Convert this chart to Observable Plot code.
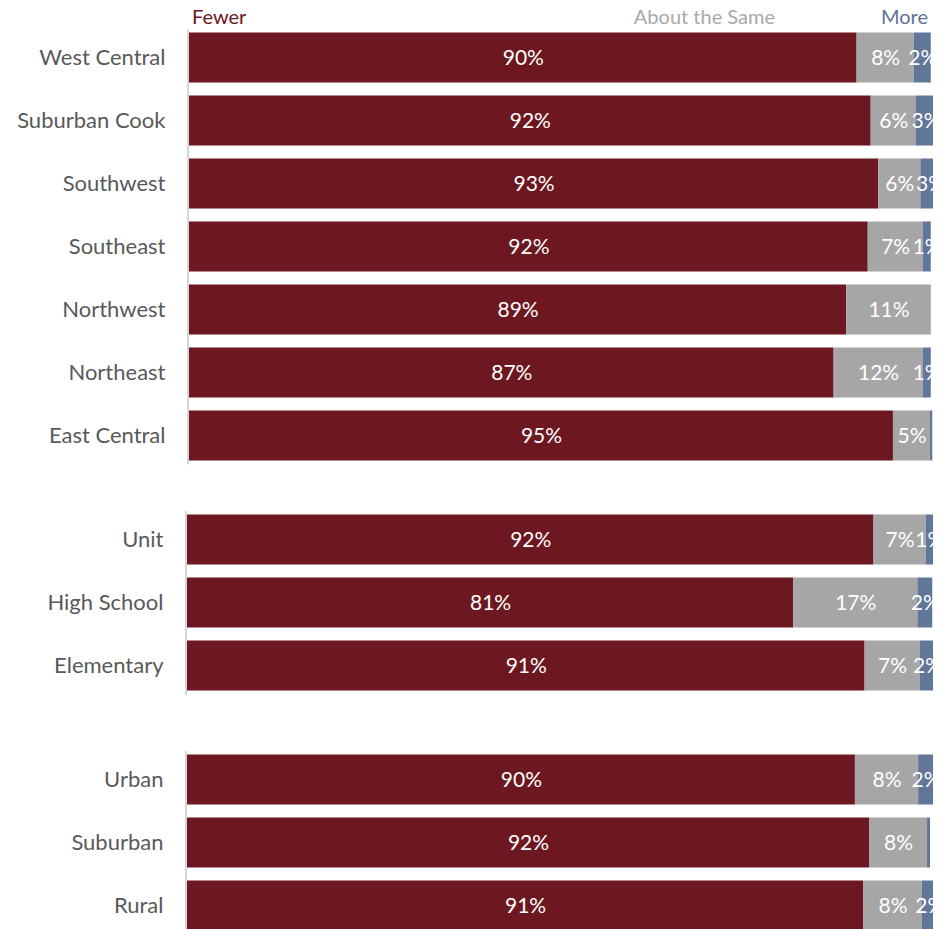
<!DOCTYPE html>
<html>
<head>
<meta charset="utf-8">
<script src="https://cdn.jsdelivr.net/npm/d3@7"></script>
<script src="https://cdn.jsdelivr.net/npm/@observablehq/plot@0.6"></script>
<style>
  html, body { margin: 0; padding: 0; background: #fff; }
  #wrap { position: relative; width: 944px; height: 929px; overflow: hidden; font-family: Lato, "Open Sans", sans-serif; }
  .lg { position: absolute; top: 4px; font-size: 20px; line-height: 24px; white-space: nowrap; }
  .panel { position: absolute; left: 0; }
  .panel svg { display: block; }
</style>
</head>
<body>
<div id="wrap">
  <span class="lg" style="left:192px;color:#6d1720">Fewer</span>
  <span class="lg" style="right:169px;color:#a8a8a8">About the Same</span>
  <span class="lg" style="right:16px;color:#5f7096">More</span>
</div>
<script>
// ---------- data ----------
const responses = ["Fewer", "About the Same", "More"];
const colors = ["#6d1720", "#a6a6a6", "#62769a"];

const regionCats = ["West Central", "Suburban Cook", "Southwest", "Southeast", "Northwest", "Northeast", "East Central"];
const regionFewer = [90.0, 91.9, 92.9, 91.5, 88.6, 86.9, 94.9];
const regionSame  = [7.7, 6.1, 5.7, 7.4, 11.4, 12.0, 5.0];
const regionMore  = [2.3, 2.6, 2.6, 1.1, 0.0, 1.1, 0.3];
const regionFewerLbl = [90, 92, 93, 92, 89, 87, 95];
const regionSameLbl  = [8, 6, 6, 7, 11, 12, 5];
const regionMoreLbl  = [2, 3, 3, 1, null, 1, null];

const typeCats = ["Unit", "High School", "Elementary"];
const typeFewer = [92.3, 81.5, 91.1];
const typeSame  = [7.0, 16.7, 7.4];
const typeMore  = [1.0, 2.0, 2.0];
const typeFewerLbl = [92, 81, 91];
const typeSameLbl  = [7, 17, 7];
const typeMoreLbl  = [1, 2, 2];

const localeCats = ["Urban", "Suburban", "Rural"];
const localeFewer = [89.8, 91.7, 90.9];
const localeSame  = [8.5, 7.8, 7.9];
const localeMore  = [2.0, 0.4, 2.0];
const localeFewerLbl = [90, 92, 91];
const localeSameLbl  = [8, 8, 8];
const localeMoreLbl  = [2, null, 2];

function buildRows(cats, vals, lbls) {
  const rows = [];
  cats.forEach((c, i) => {
    responses.forEach((r, k) => {
      rows.push({cat: c, resp: r, value: vals[k][i], label: lbls[k][i] == null ? "" : lbls[k][i] + "%"});
    });
  });
  return rows;
}

function panel({cats, vals, lbls, top, marginLeft, step, marginTop}) {
  const rows = buildRows(cats, vals, lbls);
  const h = marginTop + step * cats.length + 5;
  const chart = Plot.plot({
    width: 944,
    height: h,
    marginLeft,
    marginRight: 11,
    marginTop,
    marginBottom: 5,
    style: {fontFamily: "Lato, 'Open Sans', sans-serif", background: "transparent", overflow: "visible"},
    x: {domain: [0, 100.3], axis: null},
    y: {domain: cats, padding: 0, label: null, tickSize: 0, tickPadding: 24},
    color: {domain: responses, range: colors},
    marks: [
      Plot.barX(rows, Plot.stackX({
        x: "value", y: "cat", fill: "resp", z: "resp", order: null,
        insetTop: 6.5, insetBottom: 6.5, clip: true
      })),
      Plot.textX(rows, Plot.stackX({
        x: "value", y: "cat", z: "resp", order: null, text: "label",
        fill: "white", fontSize: 21, clip: true
      })),
      Plot.ruleX([0], {stroke: "#d6d6d6", strokeWidth: 2, dx: -1.5, insetTop: 4, insetBottom: 2}),
      Plot.axisY({tickSize: 0, tickPadding: 24, fontSize: 22, fill: "#595959", label: null})
    ]
  });
  const div = document.createElement("div");
  div.className = "panel";
  div.style.top = top + "px";
  div.appendChild(chart);
  document.getElementById("wrap").appendChild(div);
}

panel({cats: regionCats, vals: [regionFewer, regionSame, regionMore], lbls: [regionFewerLbl, regionSameLbl, regionMoreLbl],
       top: 0, marginLeft: 189, step: 63, marginTop: 25.5});
panel({cats: typeCats, vals: [typeFewer, typeSame, typeMore], lbls: [typeFewerLbl, typeSameLbl, typeMoreLbl],
       top: 496.5, marginLeft: 187, step: 63.5, marginTop: 10});
panel({cats: localeCats, vals: [localeFewer, localeSame, localeMore], lbls: [localeFewerLbl, localeSameLbl, localeMoreLbl],
       top: 736.5, marginLeft: 187, step: 63.5, marginTop: 10});
</script>
</body>
</html>
